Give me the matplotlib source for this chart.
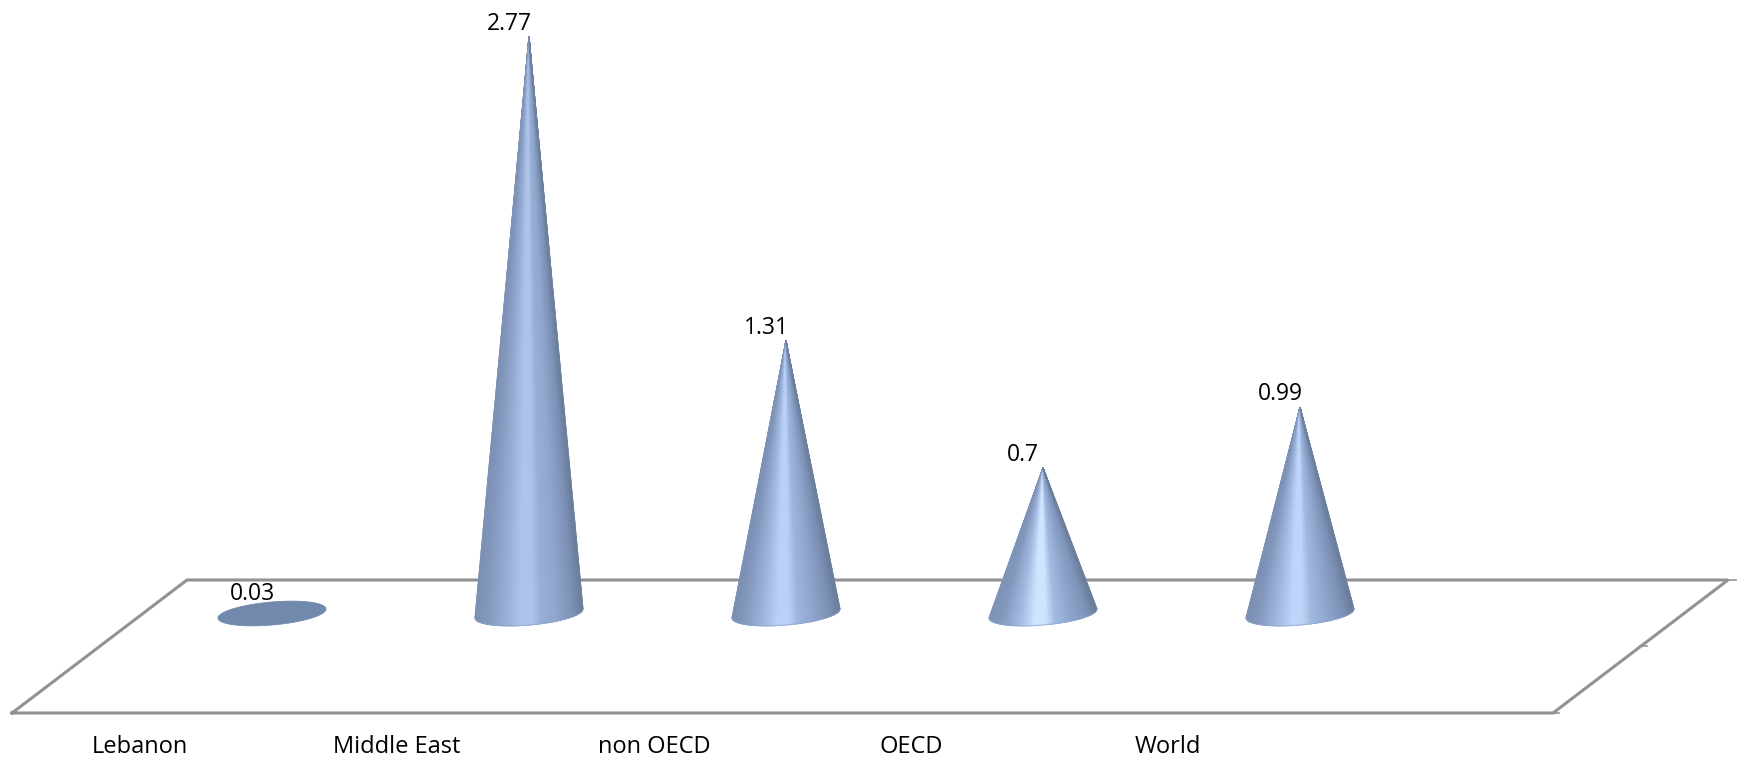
import numpy as np
import matplotlib
matplotlib.use("Agg")
import matplotlib.pyplot as plt
from matplotlib.colors import LinearSegmentedColormap

categories = ["Lebanon", "Middle East", "non OECD", "OECD", "World"]
values = [0.03, 2.77, 1.31, 0.7, 0.99]
value_labels = ["0.03", "2.77", "1.31", "0.7", "0.99"]

W, H = 1737, 761
STEP = 257.0      # px per category
X0 = 272.0        # px of first category
UNIT = 208.3      # px per value unit
Y0 = 613.5        # px of value zero

fig = plt.figure(figsize=(W / 100, H / 100), dpi=100, facecolor="white")
ax = fig.add_axes([0, 0, 1, 1])
ax.set_xlim(-X0 / STEP, (W - X0) / STEP)
ax.set_ylim((Y0 - H) / UNIT, Y0 / UNIT)
ax.axis("off")


def px(x, y):
    return (np.asarray(x, float) - X0) / STEP, (Y0 - np.asarray(y, float)) / UNIT


# floor parallelogram
FLOOR = "#929292"
fx, fy = px([12, 187, 1728, 1553, 12], [713, 580, 580, 713, 713])
ax.plot(fx, fy, color=FLOOR, lw=2.2, solid_joinstyle="miter", zorder=1)
for sx, sy in (([1728, 1736], [580, 580]), ([1553, 1559], [713, 713]), ([1640, 1647], [646, 646])):
    a, b = px(sx, sy)
    ax.plot(a, b, color=FLOOR, lw=1.2, zorder=1)

# cone shape
half_w = 54.0 / STEP
semi_b = 11.5 / UNIT
tilt = 4.5 / UNIT

stops = [0.0, 0.10, 0.28, 0.42, 0.53, 0.62, 0.76, 0.92, 1.0]


def cone_cmap(mid, light, dark):
    cols = [dark, "#8498bd", mid, light, light, mid, "#8fa6cd", dark, "#6b7d9c"]
    return LinearSegmentedColormap.from_list("c", list(zip(stops, cols)))


cmaps = [
    cone_cmap("#6f87ab", "#7089ad", "#6c83a6"),
    cone_cmap("#98aed6", "#adc4ea", "#7c90b5"),
    cone_cmap("#9db4dd", "#b9d1f6", "#7b8fb4"),
    cone_cmap("#a3bae1", "#cfe4ff", "#7e93b8"),
    cone_cmap("#a0b7e0", "#bdd5f8", "#7b8fb4"),
]

u = np.linspace(-1, 1, 161)
t = np.linspace(0, 1, 80)
for i, (v, cm) in enumerate(zip(values, cmaps)):
    # base ellipse, visible for very short cones
    th = np.linspace(0, 2 * np.pi, 200)
    ax.fill(i + half_w * np.cos(th), semi_b * np.sin(th) + tilt * np.cos(th),
            color=cm(0.5), lw=0.6, zorder=2 + i)
    U, T = np.meshgrid(u, t)
    X = i + U * half_w * (1 - T)
    base = -semi_b * np.sqrt(1 - U ** 2) + tilt * U
    Y = base * (1 - T) + v * T
    if v > 0.1:
        ax.pcolormesh(X, Y, U, cmap=cm, vmin=-1, vmax=1, shading="gouraud", zorder=3 + i)
        # soft edge
        ax.plot(X[:, 0], Y[:, 0], color="#8095bb", lw=0.7, alpha=0.7, zorder=3 + i)
        ax.plot(X[:, -1], Y[:, -1], color="#72869f", lw=0.7, alpha=0.7, zorder=3 + i)
        ax.plot(X[0], Y[0], color="#8ea4cc", lw=0.7, alpha=0.7, zorder=3 + i)
    ax.text(i - 20 / STEP, v + 7 / UNIT, value_labels[i], ha="center", va="baseline",
            fontsize=16.5, family="Open Sans", color="black", zorder=20)

label_y = px(0, 753)[1]
for i, c in enumerate(categories):
    ax.text(i - 132 / STEP, label_y, c, ha="center", va="baseline",
            fontsize=17, family="Open Sans", color="black", zorder=20)

fig.savefig("out.png", dpi=100, facecolor="white")
